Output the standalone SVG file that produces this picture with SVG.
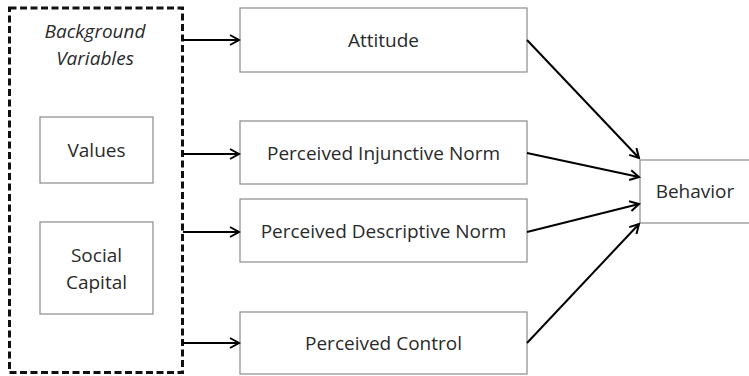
<svg xmlns="http://www.w3.org/2000/svg" width="749" height="376" viewBox="0 0 749 376">
<defs>
<marker id="ah" markerWidth="12" markerHeight="12" refX="10" refY="6" orient="auto" markerUnits="userSpaceOnUse">
<path d="M1,1 L10,6 L1,11" fill="none" stroke="#000" stroke-width="2"/>
</marker>
<style>
.box{fill:#fff;stroke:#8a8a8a;stroke-width:1.2}
.dash{fill:none;stroke:#111;stroke-width:3;stroke-dasharray:7,3.5}
.t{font-family:"Open Sans","Liberation Sans",sans-serif;font-size:19px;fill:#2a2a2a;text-anchor:middle}
.it{font-style:italic}
.c{stroke:#000;stroke-width:2;fill:none;marker-end:url(#ah)}
</style>
</defs>
<rect width="749" height="376" fill="#fff"/>
<g id="background">
<rect class="dash" x="9.5" y="8" width="173" height="364.5"/>
<text class="t it" x="95" y="38">Background</text>
<text class="t it" x="95" y="65">Variables</text>
</g>
<g id="values">
<rect class="box" x="40" y="117" width="113" height="66"/>
<text class="t" x="96.5" y="157">Values</text>
</g>
<g id="social">
<rect class="box" x="40" y="222" width="113" height="92"/>
<text class="t" x="96.5" y="262">Social</text>
<text class="t" x="96.5" y="289">Capital</text>
</g>
<g id="attitude">
<rect class="box" x="240" y="8" width="287" height="64"/>
<text class="t" x="383.5" y="47">Attitude</text>
</g>
<g id="injunctive">
<rect class="box" x="240" y="121" width="287" height="63"/>
<text class="t" x="383.5" y="160">Perceived Injunctive Norm</text>
</g>
<g id="descriptive">
<rect class="box" x="240" y="199" width="287" height="63"/>
<text class="t" x="383.5" y="238">Perceived Descriptive Norm</text>
</g>
<g id="control">
<rect class="box" x="240" y="312" width="287" height="62"/>
<text class="t" x="383.5" y="350">Perceived Control</text>
</g>
<g id="behavior">
<rect class="box" x="640" y="160" width="115" height="63"/>
<text class="t" x="695" y="198">Behavior</text>
</g>
<g id="connectors">
<line class="c" x1="183" y1="40" x2="239" y2="40"/>
<line class="c" x1="183" y1="154" x2="239" y2="154"/>
<line class="c" x1="183" y1="232" x2="239" y2="232"/>
<line class="c" x1="183" y1="343" x2="239" y2="343"/>
<line class="c" x1="527" y1="40" x2="639" y2="158"/>
<line class="c" x1="527" y1="153" x2="639" y2="177"/>
<line class="c" x1="527" y1="232" x2="639" y2="204"/>
<line class="c" x1="527" y1="343" x2="639" y2="224"/>
</g>
</svg>
